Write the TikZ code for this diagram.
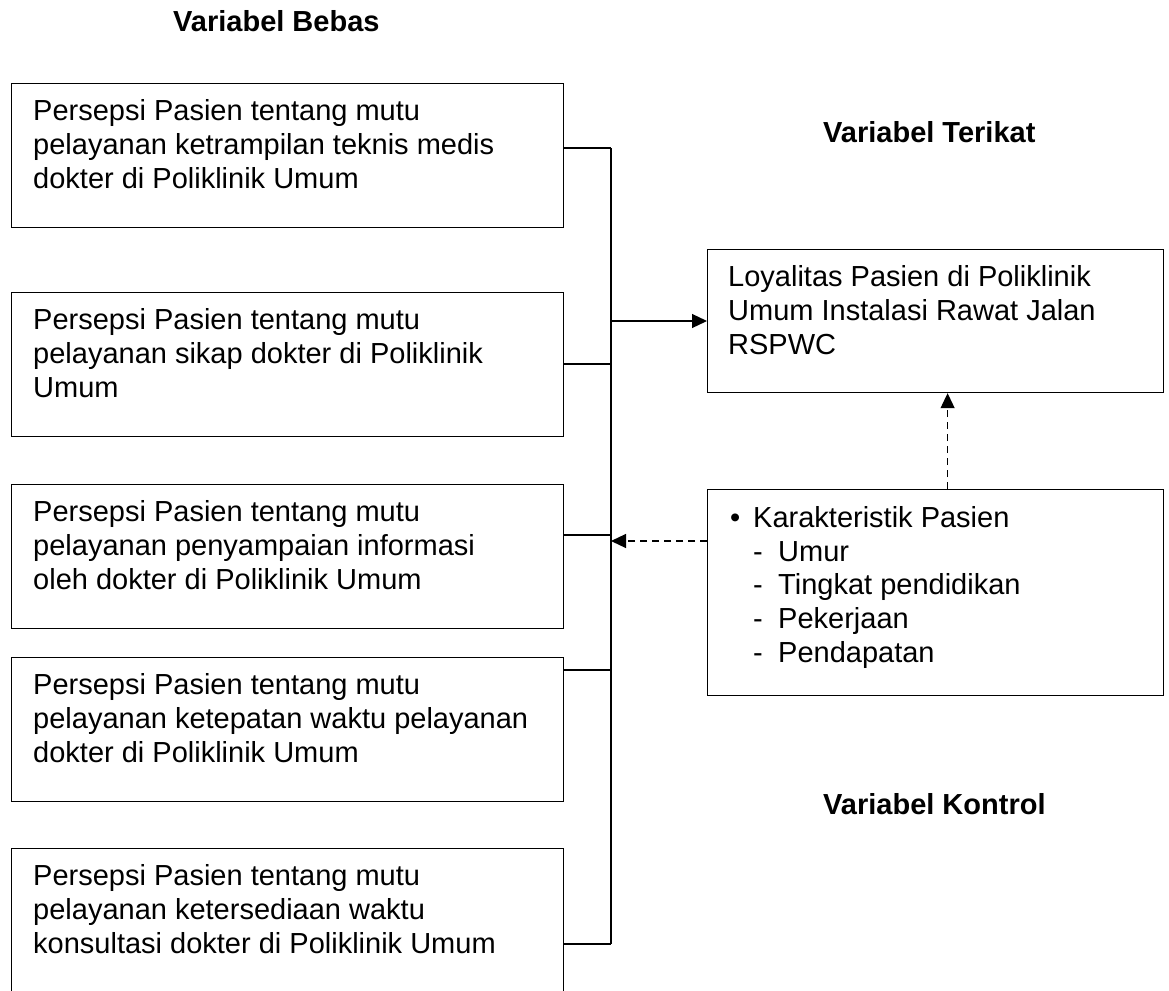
\documentclass[tikz,border=0pt]{standalone}
\usepackage{fontspec}
\setmainfont{Liberation Sans}
\usetikzlibrary{arrows.meta}

\begin{document}
\begin{tikzpicture}[x=1pt, y=-1pt,
    every node/.style={font=\fontsize{29}{33.6}\selectfont},
    varbox/.style={draw=black, line width=1.2pt, rectangle, inner sep=0pt,
      anchor=north west, minimum width=#1},
    varbox/.default=552pt,
    % multi-line texts are placed by the baseline of their last line
    boxtext/.style={anchor=base west, inner sep=0pt, align=left},
    heading/.style={anchor=base west, inner sep=0pt,
      font=\fontsize{29}{33.6}\selectfont\bfseries},
    wire/.style={line width=1.2pt},
    solidarrow/.style={wire, -{Triangle[length=15pt, width=14pt]}},
    dasharrow/.style={wire, dash pattern=on 7pt off 5pt,
      -{Triangle[length=15pt, width=14pt]}}]

  \useasboundingbox (0,0) rectangle (1169,990);

  % headings
  \node[heading] (hBebas)   at (173,32)  {Variabel Bebas};
  \node[heading] (hTerikat) at (823,142) {Variabel Terikat};
  \node[heading] (hKontrol) at (823,814) {Variabel Kontrol};

  % independent variables
  \node[varbox, minimum height=144pt] (b1) at (11,83)  {};
  \node[varbox, minimum height=144pt] (b2) at (11,292) {};
  \node[varbox, minimum height=144pt] (b3) at (11,484) {};
  \node[varbox, minimum height=144pt] (b4) at (11,657) {};
  \node[varbox, minimum height=144pt] (b5) at (11,848) {};

  \node[boxtext] (t1) at (33,188) {Persepsi Pasien tentang mutu\\
    pelayanan ketrampilan teknis medis\\dokter di Poliklinik Umum};
  \node[boxtext] (t2) at (33,397) {Persepsi Pasien tentang mutu\\
    pelayanan sikap dokter di Poliklinik\\Umum};
  \node[boxtext] (t3) at (33,589) {Persepsi Pasien tentang mutu\\
    pelayanan penyampaian informasi\\oleh dokter di Poliklinik Umum};
  \node[boxtext] (t4) at (33,762) {Persepsi Pasien tentang mutu\\
    pelayanan ketepatan waktu pelayanan\\dokter di Poliklinik Umum};
  \node[boxtext] (t5) at (33,953) {Persepsi Pasien tentang mutu\\
    pelayanan ketersediaan waktu\\konsultasi dokter di Poliklinik Umum};

  % dependent variable
  \node[varbox=456pt, minimum height=143pt] (loy) at (707,249) {};
  \node[boxtext] (tloy) at (728,354) {Loyalitas Pasien di Poliklinik\\
    Umum Instalasi Rawat Jalan\\RSPWC};

  % control variable
  \node[varbox=456pt, minimum height=206pt] (kar) at (707,489) {};
  \node[boxtext] (tkar) at (730,662)
    {\makebox[23pt][l]{\textbullet}Karakteristik Pasien\\
     \hspace*{23pt}\makebox[25pt][l]{-}Umur\\
     \hspace*{23pt}\makebox[25pt][l]{-}Tingkat pendidikan\\
     \hspace*{23pt}\makebox[25pt][l]{-}Pekerjaan\\
     \hspace*{23pt}\makebox[25pt][l]{-}Pendapatan};

  % collecting bus
  \coordinate (j1) at (611,148);
  \coordinate (j2) at (611,364);
  \coordinate (j3) at (611,535);
  \coordinate (j4) at (611,670);
  \coordinate (j5) at (611,944);
  \coordinate (jout) at (611,321);
  \coordinate (jin)  at (611,541);

  \draw[wire] (j1) -- (j5);
  \draw[wire] (b1.east |- j1) -- (j1);
  \draw[wire] (b2.east |- j2) -- (j2);
  \draw[wire] (b3.east |- j3) -- (j3);
  \draw[wire] (b4.east |- j4) -- (j4);
  \draw[wire] (b5.east |- j5) -- (j5);

  \draw[solidarrow] (jout) -- (jout -| loy.west);
  \draw[dasharrow] ([xshift=12pt]kar.north) -- ([xshift=12pt]loy.south);
  \draw[dasharrow] (kar.west |- jin) -- (jin);
\end{tikzpicture}
\end{document}
